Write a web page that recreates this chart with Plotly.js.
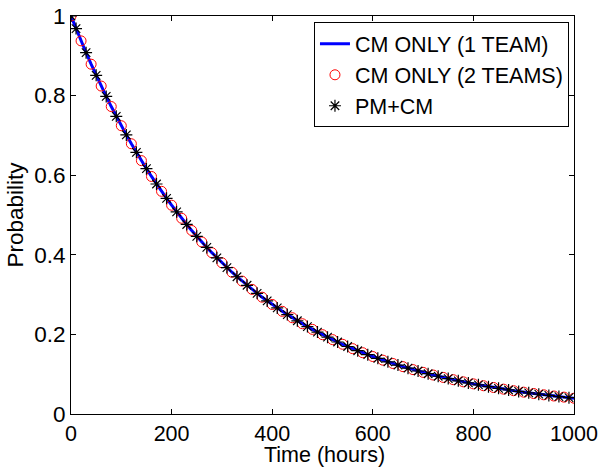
<!DOCTYPE html>
<html>
<head>
<meta charset="utf-8">
<script src="https://cdn.plot.ly/plotly-3.0.1.min.js"></script>
<style>html,body{margin:0;padding:0;background:#fff;}#chart{width:601px;height:467px;}</style>
</head>
<body>
<div id="chart"></div>
<script>
// Time grid (hours) and probability values
const tLine = [0,10,20,30,40,50,60,70,80,90,100,110,120,130,140,150,160,170,180,190,200,
  210,220,230,240,250,260,270,280,290,300,310,320,330,340,350,360,370,380,390,400,
  410,420,430,440,450,460,470,480,490,500,510,520,530,540,550,560,570,580,590,600,
  610,620,630,640,650,660,670,680,690,700,710,720,730,740,750,760,770,780,790,800,
  810,820,830,840,850,860,870,880,890,900,910,920,930,940,950,960,970,980,990,1000];
const pLine = [1.000,0.9683,0.9375,0.9078,0.8789,0.8510,0.8240,0.7979,0.7725,0.7480,0.7243,
  0.7013,0.6790,0.6575,0.6366,0.6164,0.5968,0.5779,0.5595,0.5418,0.5246,
  0.5079,0.4918,0.4762,0.4611,0.4464,0.4323,0.4186,0.4053,0.3924,0.3800,
  0.3679,0.3562,0.3449,0.3340,0.3234,0.3131,0.3032,0.2935,0.2842,0.2752,
  0.2665,0.2580,0.2498,0.2419,0.2342,0.2268,0.2196,0.2126,0.2059,0.1993,
  0.1930,0.1869,0.1809,0.1752,0.1696,0.1642,0.1590,0.1540,0.1491,0.1444,
  0.1398,0.1353,0.1310,0.1269,0.1229,0.1190,0.1152,0.1115,0.1080,0.1046,
  0.1012,0.0980,0.0949,0.0919,0.0890,0.0862,0.0834,0.0808,0.0782,0.0757,
  0.0733,0.0710,0.0687,0.0666,0.0645,0.0624,0.0604,0.0585,0.0567,0.0549,
  0.0531,0.0514,0.0498,0.0482,0.0467,0.0452,0.0438,0.0424,0.0410,0.0397];

// CM ONLY (2 TEAMS): markers every 20 hours
const tTwo = [0,20,40,60,80,100,120,140,160,180,200,220,240,260,280,300,320,340,360,380,400,
  420,440,460,480,500,520,540,560,580,600,620,640,660,680,700,720,740,760,780,800,
  820,840,860,880,900,920,940,960,980,1000];
const pTwo = [1.000,0.9375,0.8789,0.8240,0.7725,0.7243,0.6790,0.6366,0.5968,0.5595,0.5246,
  0.4918,0.4611,0.4323,0.4053,0.3800,0.3562,0.3340,0.3131,0.2935,0.2752,
  0.2580,0.2419,0.2268,0.2126,0.1993,0.1869,0.1752,0.1642,0.1540,0.1444,
  0.1353,0.1269,0.1190,0.1115,0.1046,0.0980,0.0919,0.0862,0.0808,0.0757,
  0.0710,0.0666,0.0624,0.0585,0.0549,0.0514,0.0482,0.0452,0.0424,0.0397];

// PM+CM: markers every 20 hours, offset by 10
const tPM = [0,10,30,50,70,90,110,130,150,170,190,210,230,250,270,290,310,330,350,370,390,
  410,430,450,470,490,510,530,550,570,590,610,630,650,670,690,710,730,750,770,790,
  810,830,850,870,890,910,930,950,970,990];
const pPM = [1.000,0.9683,0.9078,0.8510,0.7979,0.7480,0.7013,0.6575,0.6164,0.5779,0.5418,
  0.5079,0.4762,0.4464,0.4186,0.3924,0.3679,0.3449,0.3234,0.3032,0.2842,
  0.2665,0.2498,0.2342,0.2196,0.2059,0.1930,0.1809,0.1696,0.1590,0.1491,
  0.1398,0.1310,0.1229,0.1152,0.1080,0.1012,0.0949,0.0890,0.0834,0.0782,
  0.0733,0.0687,0.0645,0.0604,0.0567,0.0531,0.0498,0.0467,0.0438,0.0410];

const names = ['CM ONLY (1 TEAM)', 'CM ONLY (2 TEAMS)', 'PM+CM'];
const xTicks = [0,200,400,600,800,1000];
const yTicks = [0,0.2,0.4,0.6,0.8,1];
const xTitle = 'Time (hours)';
const yTitle = 'Probability';

const FONT = '"Liberation Sans", Arial, Helvetica, sans-serif';
const FS = 22.5;

const traces = [
  {x: tLine, y: pLine, type: 'scatter', mode: 'lines', name: names[0],
   line: {color: '#0000ff', width: 3}},
  {x: tTwo, y: pTwo, type: 'scatter', mode: 'markers', name: names[1],
   marker: {symbol: 'circle-open', color: '#ff0000', size: 10, line: {width: 1, color: '#ff0000'}}},
  {x: tPM, y: pPM, type: 'scatter', mode: 'markers', name: names[2],
   marker: {symbol: 'asterisk-open', color: '#000000', size: 10, line: {width: 1.2, color: '#000000'}}}
];

const axisCommon = {
  showgrid: false, zeroline: false, showline: true, linecolor: '#000', linewidth: 1,
  mirror: 'ticks', ticks: 'inside', ticklen: 5, tickcolor: '#000', tickwidth: 1,
  tickfont: {family: FONT, size: FS, color: '#000'}
};

const layout = {
  width: 601, height: 467,
  margin: {l: 71, r: 27, t: 16, b: 53},
  paper_bgcolor: '#fff', plot_bgcolor: '#fff',
  font: {family: FONT, size: FS, color: '#000'},
  showlegend: true,
  xaxis: Object.assign({}, axisCommon, {
    range: [0, 1000], tickvals: xTicks, ticktext: xTicks.map(String),
    tickfont: {family: FONT, size: 21.5, color: '#000'},
    automargin: false
  }),
  yaxis: Object.assign({}, axisCommon, {
    range: [0, 1], tickvals: yTicks, ticktext: yTicks.map(String),
    title: {text: yTitle, font: {family: FONT, size: FS, color: '#000'}, standoff: 4},
    automargin: false
  }),
  annotations: [{
    text: xTitle, xref: 'paper', yref: 'paper', x: 0.503, y: -0.104,
    xanchor: 'center', yanchor: 'middle', showarrow: false,
    font: {family: FONT, size: 21.5, color: '#000'}
  }],
  legend: {
    x: 0.99, y: 0.984, xanchor: 'right', yanchor: 'top',
    bgcolor: '#fff', bordercolor: '#000', borderwidth: 1,
    font: {family: FONT, size: 21.5, color: '#000'},
    itemwidth: 30, tracegroupgap: 0
  }
};

Plotly.newPlot('chart', traces, layout, {displayModeBar: false, staticPlot: true});
</script>
</body>
</html>
